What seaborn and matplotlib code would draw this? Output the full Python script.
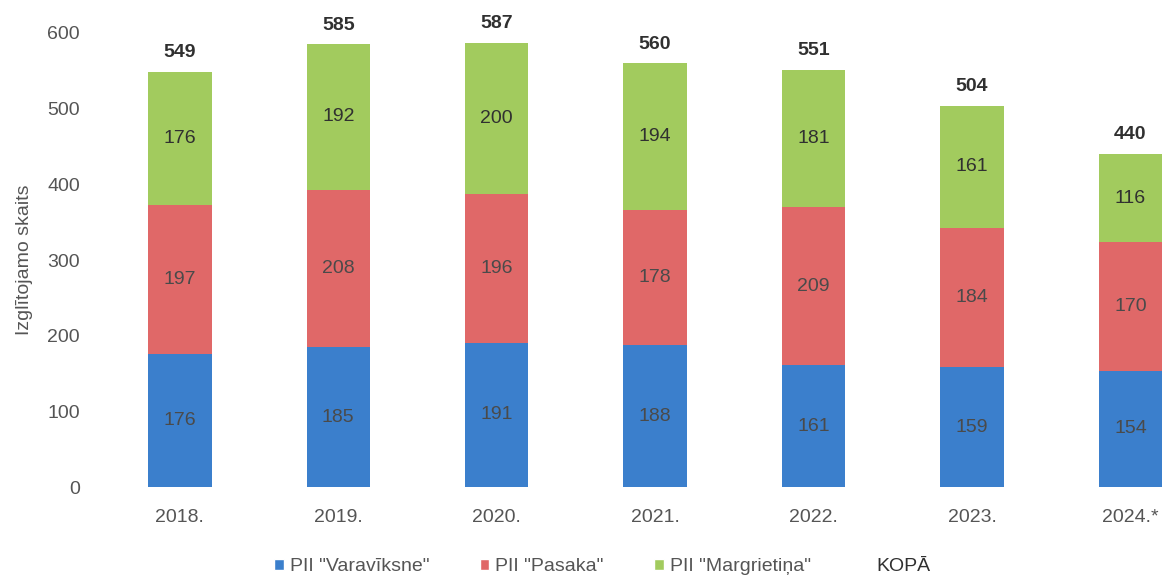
import matplotlib
matplotlib.use("Agg")
import matplotlib.pyplot as plt
import seaborn as sns
import numpy as np
import pandas as pd
from matplotlib.patches import Patch

years = ["2018.", "2019.", "2020.", "2021.", "2022.", "2023.", "2024.*"]
varaviksne = [176, 185, 191, 188, 161, 159, 154]
pasaka = [197, 208, 196, 178, 209, 184, 170]
margrietina = [176, 192, 200, 194, 181, 161, 116]
kopa = [549, 585, 587, 560, 551, 504, 440]
series_names = ['PII "Varavīksne"', 'PII "Pasaka"', 'PII "Margrietiņa"', "KOPĀ"]

sns.set_theme(style="white")
plt.rcParams['font.family'] = ['Liberation Sans', 'DejaVu Sans']

colors = ["#3b7fcc", "#e06868", "#a2cb5e"]

fig = plt.figure(figsize=(11.7, 5.78), dpi=100)
ax = fig.add_axes([0.086, 0.157, 0.914, 0.786])

b1 = np.array(varaviksne)
b2 = b1 + np.array(pasaka)
df = pd.DataFrame({"year": years, "v": varaviksne, "p": pasaka, "m": margrietina,
                   "b1": b1, "b2": b2})

w = 0.40
common = dict(width=w, saturation=1, ax=ax, linewidth=0, edgecolor="none")
sns.barplot(data=df, x="year", y="v", color=colors[0], **common)
sns.barplot(data=df, x="year", y="p", color=colors[1], bottom=df["b1"], **common)
sns.barplot(data=df, x="year", y="m", color=colors[2], bottom=df["b2"], **common)

for i in range(len(years)):
    ax.text(i, varaviksne[i] / 2, str(varaviksne[i]), ha="center", va="center",
            fontsize=14, color="#4a4a4a")
    ax.text(i, b1[i] + pasaka[i] / 2, str(pasaka[i]), ha="center", va="center",
            fontsize=14, color="#4a4a4a")
    ax.text(i, b2[i] + margrietina[i] / 2, str(margrietina[i]), ha="center", va="center",
            fontsize=14, color="#303030")
    ax.text(i, kopa[i] + 14, str(kopa[i]), ha="center", va="bottom",
            fontsize=14, fontweight="bold", color="#303030")

ax.set_ylim(0, 600)
ax.set_xlim(-0.5, 6.25)
ax.set_yticks(range(0, 601, 100))
ax.tick_params(axis="both", labelsize=14, colors="#555555", length=0)
ax.tick_params(axis="y", pad=15)
ax.tick_params(axis="x", pad=16)
ax.set_xlabel("")
ax.set_ylabel("Izglītojamo skaits", fontsize=14, color="#555555", labelpad=10)
for s in ax.spines.values():
    s.set_visible(False)

handles = [Patch(facecolor=colors[0]), Patch(facecolor=colors[1]), Patch(facecolor=colors[2]),
           Patch(facecolor="none", edgecolor="none")]
leg = fig.legend(handles, series_names, loc="lower center", bbox_to_anchor=(0.515, -0.025),
                 ncol=4, frameon=False, fontsize=14, handlelength=0.5, handleheight=0.5,
                 handletextpad=0.3, columnspacing=2.6)
for t in leg.get_texts():
    t.set_color("#555555")
leg.get_texts()[3].set_color("#303030")

fig.savefig("out.png", dpi=100)
